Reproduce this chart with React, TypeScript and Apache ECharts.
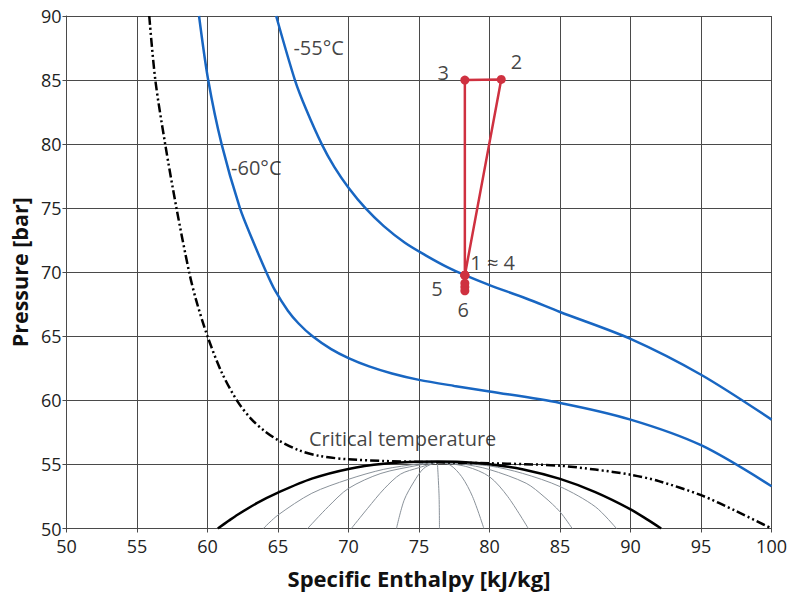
import React, { useEffect, useRef } from "react";
import * as echarts from "echarts";

// Axis ranges
const X_MIN = 50, X_MAX = 100, X_STEP = 5;
const Y_MIN = 50, Y_MAX = 90, Y_STEP = 5;

// Isotherm -60°C  [enthalpy kJ/kg, pressure bar]
const isoM60: number[][] = [
  [59.4, 90], [60.05, 85], [61.0, 80], [62.3, 75], [63.2, 72.5], [64.17, 70], [64.78, 68.6],
  [65.7, 67.0], [66.46, 66.0], [67.45, 65.0], [68.77, 64.0], [70, 63.3], [71.46, 62.65],
  [73.08, 62.1], [75, 61.6], [77.5, 61.13], [80, 60.7], [85, 59.8], [90, 58.5], [95, 56.5],
  [100, 53.3],
];

// Isotherm -55°C
const isoM55: number[][] = [
  [64.87, 90], [66.2, 85], [67.0, 82.7], [68.1, 80], [69.0, 78.2], [70, 76.6], [71.2, 75],
  [72.5, 73.6], [74, 72.3], [75.5, 71.3], [77, 70.4], [78.25, 69.77], [80, 69.0],
  [82.6, 67.95], [85, 66.9], [90, 64.8], [95, 62.0], [100, 58.5],
];

// Critical temperature isotherm
const isoCrit: number[][] = [
  [55.87, 90], [56.3, 85], [57.0, 80], [57.8, 75], [58.7, 70], [59.2, 67.8], [60.0, 65.0],
  [61.0, 62.2], [62.08, 60.0], [63.06, 58.6], [64.0, 57.65], [65.0, 56.9], [66.5, 56.1],
  [68.0, 55.65], [70.0, 55.4], [72.5, 55.27], [75, 55.2], [80, 55.09], [82.5, 55.02],
  [85, 54.9], [87.5, 54.6], [90, 54.2], [92, 53.7], [95, 52.6], [97.5, 51.35], [100, 50.0],
];

// Saturation dome
const dome: number[][] = [
  [60.73, 50], [61.5, 50.6], [62, 50.98], [63.5, 51.98], [65, 52.8], [67.4, 53.89],
  [70, 54.65], [72.5, 55.05], [75, 55.21], [76.3, 55.22], [78, 55.19], [80, 55.02],
  [82.4, 54.61], [85, 53.87], [87.5, 52.84], [90, 51.5], [91.2, 50.69], [92.17, 50],
];

// Constant vapour-quality lines inside the dome
const qualityLines: number[][][] = [
  [[63.96, 50], [65, 51.05], [67.4, 52.75], [70, 53.84], [72.5, 54.62], [75, 55.05], [76.3, 55.2]],
  [[67.1, 50], [68.56, 51.7], [70, 53.13], [72.3, 54.3], [75, 54.95], [76.3, 55.2]],
  [[70.2, 50], [71.36, 51.58], [72.53, 53.1], [73.7, 54.25], [75, 54.75], [76.3, 55.2]],
  [[73.4, 50], [73.94, 52.2], [74.64, 53.65], [75.34, 54.7], [76.3, 55.2]],
  [[76.45, 50], [76.42, 52.6], [76.3, 55.2]],
  [[79.6, 50], [78.8, 52.48], [78.03, 54.04], [77.2, 54.96], [76.3, 55.2]],
  [[82.75, 50], [81.3, 52.48], [80.0, 54.04], [78.4, 54.82], [76.3, 55.2]],
  [[85.86, 50], [85.0, 51.3], [83.87, 52.48], [82.6, 53.53], [80.0, 54.6], [78.0, 55.05], [76.3, 55.2]],
  [[89.0, 50], [87.5, 51.7], [85.0, 53.27], [82.35, 54.3], [80.0, 54.88], [76.3, 55.2]],
];

// Refrigeration cycle 1 -> 2 -> 3 -> 1
const cycleH = [78.25, 80.83, 78.25, 78.25];
const cycleP = [69.77, 85.05, 85.0, 69.77];
// Expansion points 1 .. 6
const expH = [78.25, 78.25, 78.25, 78.25];
const expP = [69.77, 69.15, 68.85, 68.55];

// Annotations (data coordinates)
const noteText = ["-55°C", "-60°C", "Critical temperature", "3", "2", "1 ≈ 4", "5", "6"];
const noteH = [67.88, 63.46, 73.84, 76.72, 81.91, 80.22, 76.27, 78.14];
const noteP = [87.51, 78.14, 56.99, 85.56, 86.42, 70.8, 68.7, 67.13];

const FONT = "'Open Sans', 'Noto Sans', sans-serif";
const GRID_COLOR = "#4a4a4a";
const BLUE = "#1866c2";
const RED = "#cf3140";
const GRAY = "#8a929a";

export default function App() {
  const ref = useRef<HTMLDivElement>(null);
  useEffect(() => {
    const chart = echarts.init(ref.current!, null, { renderer: "svg" });
    const lineBase = (data: number[][], color: string, width: number, type: any = "solid", z = 2) => ({
      type: "line",
      data,
      showSymbol: false,
      symbol: "none",
      smooth: 0.3,
      z,
      lineStyle: { color, width, type, cap: "butt" },
      silent: true,
    });
    const series: any[] = [];
    qualityLines.forEach((q) => series.push(lineBase(q, GRAY, 1, "solid", 2)));
    series.push(lineBase(dome, "#000", 2.5, "solid", 3));
    series.push(lineBase(isoCrit, "#000", 2.5, [9, 3, 2, 3, 2, 3], 3));
    series.push(lineBase(isoM60, BLUE, 2.5, "solid", 4));
    series.push(lineBase(isoM55, BLUE, 2.5, "solid", 4));
    series.push({
      type: "line",
      data: cycleH.map((h, i) => [h, cycleP[i]]),
      symbol: "circle",
      symbolSize: 9,
      showSymbol: true,
      z: 6,
      itemStyle: { color: RED },
      lineStyle: { color: RED, width: 2.5 },
      silent: true,
    });
    series.push({
      type: "line",
      data: expH.map((h, i) => [h, expP[i]]),
      symbol: "circle",
      symbolSize: 9,
      showSymbol: true,
      z: 6,
      itemStyle: { color: RED },
      lineStyle: { color: RED, width: 2.5 },
      silent: true,
    });
    series.push({
      type: "scatter",
      z: 7,
      symbolSize: 1,
      itemStyle: { color: "transparent" },
      silent: true,
      data: noteText.map((t, i) => ({ name: t, value: [noteH[i], noteP[i]] })),
      label: {
        show: true,
        position: "inside",
        formatter: "{b}",
        fontSize: 20,
        fontFamily: FONT,
        color: "#111",
      },
    });

    const axisCommon = {
      type: "value",
      axisLine: { show: true, onZero: false, lineStyle: { color: GRID_COLOR, width: 1 } },
      axisTick: { show: true, length: 4, lineStyle: { color: GRID_COLOR, width: 1 } },
      splitLine: { show: true, lineStyle: { color: GRID_COLOR, width: 1 } },
      nameLocation: "middle",
      nameTextStyle: { fontSize: 22, fontWeight: "bold", color: "#111", fontFamily: FONT },
    };

    chart.setOption({
      animation: false,
      backgroundColor: "#fff",
      grid: { left: 62, right: 15.5, top: 16, bottom: 67.5, containLabel: false },
      xAxis: {
        ...axisCommon,
        min: X_MIN,
        max: X_MAX,
        interval: X_STEP,
        name: "Specific Enthalpy [kJ/kg]",
        nameGap: 38,
        axisLabel: { fontSize: 18, color: "#222", fontFamily: FONT, margin: 8 },
      },
      yAxis: {
        ...axisCommon,
        min: Y_MIN,
        max: Y_MAX,
        interval: Y_STEP,
        name: "Pressure [bar]",
        nameGap: 30,
        nameRotate: 90,
        nameTextStyle: { fontSize: 21.5, fontWeight: "bold", color: "#111", fontFamily: FONT },
        axisLabel: { fontSize: 18, color: "#222", fontFamily: FONT, margin: 5 },
      },
      series,
    });
    return () => chart.dispose();
  }, []);
  return (
    <div
      ref={ref}
      style={{ position: "absolute", left: 0, top: 0, width: 790, height: 596, background: "#fff" }}
    />
  );
}
